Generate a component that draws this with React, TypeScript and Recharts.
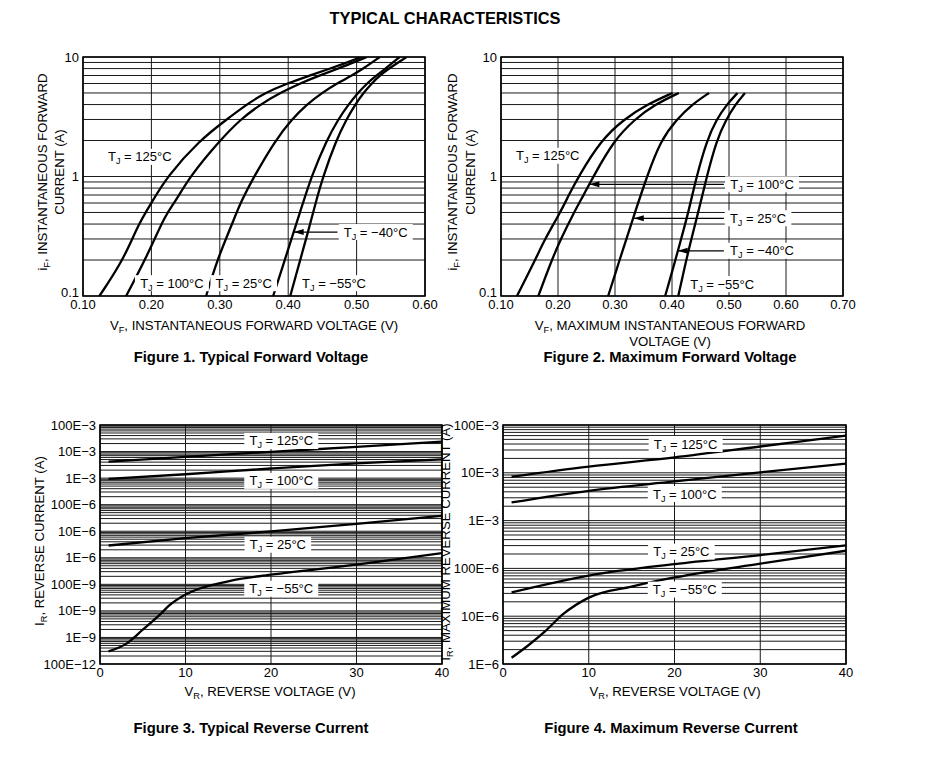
import type { ReactNode } from 'react'
import {
  CartesianGrid,
  Line,
  LineChart,
  ReferenceArea,
  ReferenceDot,
  ReferenceLine,
  XAxis,
  YAxis,
} from 'recharts'

type Pt = { v: number; i: number }
type Tag = { v: number; i: number; text: string }
type Arrow = { from: number; to: number; i: number }

const FONT = '"Liberation Sans", Arial, Helvetica, sans-serif'

// Figure 1 – typical forward voltage (V, A)
const FIG1_X_TICKS = [0.1, 0.2, 0.3, 0.4, 0.5, 0.6]
const FWD_Y_TICKS = [0.1, 1, 10]
const FIG1_125: Pt[] = [
  { v: 0.124, i: 0.1 }, { v: 0.159, i: 0.2 }, { v: 0.181, i: 0.4 }, { v: 0.2, i: 0.6 },
  { v: 0.223, i: 1 }, { v: 0.27, i: 2 }, { v: 0.31, i: 3 }, { v: 0.339, i: 4 },
  { v: 0.366, i: 5 }, { v: 0.398, i: 6 }, { v: 0.432, i: 7 }, { v: 0.461, i: 8 },
  { v: 0.486, i: 9 }, { v: 0.507, i: 10 },
]
const FIG1_100: Pt[] = [
  { v: 0.163, i: 0.1 }, { v: 0.191, i: 0.2 }, { v: 0.222, i: 0.5 }, { v: 0.234, i: 0.6 },
  { v: 0.256, i: 1 }, { v: 0.3, i: 2 }, { v: 0.33, i: 3 }, { v: 0.359, i: 4 },
  { v: 0.388, i: 5 }, { v: 0.417, i: 6 }, { v: 0.446, i: 7 }, { v: 0.473, i: 8 },
  { v: 0.495, i: 9 }, { v: 0.515, i: 10 },
]
const FIG1_25: Pt[] = [
  { v: 0.28, i: 0.1 }, { v: 0.296, i: 0.2 }, { v: 0.318, i: 0.4 }, { v: 0.33, i: 0.6 },
  { v: 0.35, i: 1 }, { v: 0.381, i: 2 }, { v: 0.405, i: 3 }, { v: 0.427, i: 4 },
  { v: 0.449, i: 5 }, { v: 0.471, i: 6 }, { v: 0.493, i: 7 }, { v: 0.51, i: 8 },
  { v: 0.534, i: 10 },
]
const FIG1_M40: Pt[] = [
  { v: 0.378, i: 0.1 }, { v: 0.395, i: 0.2 }, { v: 0.408, i: 0.343 }, { v: 0.4216, i: 0.6 },
  { v: 0.434, i: 1 }, { v: 0.456, i: 2 }, { v: 0.473, i: 3 }, { v: 0.488, i: 4 },
  { v: 0.502, i: 5 }, { v: 0.515, i: 6 }, { v: 0.529, i: 7 }, { v: 0.542, i: 8 },
  { v: 0.563, i: 10 },
]
const FIG1_M55: Pt[] = [
  { v: 0.403, i: 0.1 }, { v: 0.4175, i: 0.2 }, { v: 0.429, i: 0.343 }, { v: 0.44, i: 0.6 },
  { v: 0.451, i: 1 }, { v: 0.47, i: 2 }, { v: 0.485, i: 3 }, { v: 0.498, i: 4 },
  { v: 0.51, i: 5 }, { v: 0.522, i: 6 }, { v: 0.534, i: 7 }, { v: 0.547, i: 8 },
  { v: 0.573, i: 10 },
]

// Figure 2 – maximum forward voltage
const FIG2_X_TICKS = [0.1, 0.2, 0.3, 0.4, 0.5, 0.6, 0.7]
const FIG2_125: Pt[] = [
  { v: 0.128, i: 0.1 }, { v: 0.16, i: 0.2 }, { v: 0.177, i: 0.3 }, { v: 0.204, i: 0.5 },
  { v: 0.219, i: 0.7 }, { v: 0.236, i: 1 }, { v: 0.275, i: 2 }, { v: 0.315, i: 3 },
  { v: 0.356, i: 4 }, { v: 0.401, i: 5 },
]
const FIG2_100: Pt[] = [
  { v: 0.1655, i: 0.1 }, { v: 0.189, i: 0.2 }, { v: 0.205, i: 0.3 }, { v: 0.228, i: 0.5 },
  { v: 0.245, i: 0.7 }, { v: 0.262, i: 1 }, { v: 0.298, i: 2 }, { v: 0.334, i: 3 },
  { v: 0.37, i: 4 }, { v: 0.412, i: 5 },
]
const FIG2_25: Pt[] = [
  { v: 0.288, i: 0.1 }, { v: 0.308, i: 0.2 }, { v: 0.32, i: 0.3 }, { v: 0.335, i: 0.5 },
  { v: 0.356, i: 1 }, { v: 0.38, i: 2 }, { v: 0.408, i: 3 }, { v: 0.435, i: 4 },
  { v: 0.465, i: 5 },
]
const FIG2_M40: Pt[] = [
  { v: 0.388, i: 0.1 }, { v: 0.406, i: 0.2 }, { v: 0.416, i: 0.3 }, { v: 0.4287, i: 0.5 },
  { v: 0.443, i: 1 }, { v: 0.461, i: 2 }, { v: 0.478, i: 3 }, { v: 0.496, i: 4 },
  { v: 0.515, i: 5 },
]
const FIG2_M55: Pt[] = [
  { v: 0.411, i: 0.1 }, { v: 0.425, i: 0.2 }, { v: 0.434, i: 0.3 }, { v: 0.446, i: 0.5 },
  { v: 0.461, i: 1 }, { v: 0.478, i: 2 }, { v: 0.495, i: 3 }, { v: 0.511, i: 4 },
  { v: 0.528, i: 5 },
]

// Figures 3 & 4 – reverse current (V, A)
const REV_X_TICKS = [0, 10, 20, 30, 40]
const FIG3_Y_TICKS = [1e-10, 1e-9, 1e-8, 1e-7, 1e-6, 1e-5, 1e-4, 1e-3, 1e-2, 1e-1]
const FIG3_Y_LABELS = ['100E−12', '1E−9', '10E−9', '100E−9', '1E−6', '10E−6', '100E−6', '1E−3', '10E−3', '100E−3']
const FIG4_Y_TICKS = [1e-6, 1e-5, 1e-4, 1e-3, 1e-2, 1e-1]
const FIG4_Y_LABELS = ['1E−6', '10E−6', '100E−6', '1E−3', '10E−3', '100E−3']

const FIG3_125: Pt[] = [
  { v: 1, i: 4.2e-3 }, { v: 10, i: 6.3e-3 }, { v: 20, i: 9.8e-3 }, { v: 30, i: 15e-3 }, { v: 40, i: 23.5e-3 },
]
const FIG3_100: Pt[] = [
  { v: 1, i: 0.93e-3 }, { v: 10, i: 1.4e-3 }, { v: 20, i: 2.3e-3 }, { v: 30, i: 3.6e-3 }, { v: 40, i: 5.1e-3 },
]
const FIG3_25: Pt[] = [
  { v: 1, i: 2.9e-6 }, { v: 10, i: 5.5e-6 }, { v: 20, i: 9.8e-6 }, { v: 30, i: 19e-6 }, { v: 40, i: 38e-6 },
]
const FIG3_M55: Pt[] = [
  { v: 1, i: 3e-10 }, { v: 3, i: 5.6e-10 }, { v: 5, i: 1.95e-9 }, { v: 7, i: 7.2e-9 },
  { v: 8, i: 1.5e-8 }, { v: 10, i: 4.1e-8 }, { v: 15, i: 1.3e-7 }, { v: 20, i: 2.3e-7 },
  { v: 30, i: 5.5e-7 }, { v: 40, i: 1.5e-6 },
]

const FIG4_125: Pt[] = [
  { v: 1, i: 8.3e-3 }, { v: 10, i: 13.5e-3 }, { v: 20, i: 21e-3 }, { v: 30, i: 35.5e-3 }, { v: 40, i: 60e-3 },
]
const FIG4_100: Pt[] = [
  { v: 1, i: 2.4e-3 }, { v: 10, i: 4.2e-3 }, { v: 20, i: 6.6e-3 }, { v: 30, i: 10.2e-3 }, { v: 40, i: 15.5e-3 },
]
const FIG4_25: Pt[] = [
  { v: 1, i: 31.6e-6 }, { v: 10, i: 71e-6 }, { v: 20, i: 123e-6 }, { v: 30, i: 190e-6 }, { v: 40, i: 302e-6 },
]
const FIG4_M55: Pt[] = [
  { v: 1, i: 1.35e-6 }, { v: 3, i: 2.5e-6 }, { v: 5, i: 5e-6 }, { v: 7, i: 11e-6 },
  { v: 10, i: 24.5e-6 }, { v: 15, i: 41.7e-6 }, { v: 20, i: 64.6e-6 }, { v: 30, i: 126e-6 },
  { v: 40, i: 234e-6 },
]

// log grid: 1..9 per decade
const logGrid = (lo: number, hi: number) => {
  const out: number[] = []
  for (let e = lo; e < hi; e++) for (let k = 1; k <= 9; k++) out.push(k * Math.pow(10, e))
  out.push(Math.pow(10, hi))
  return out
}

function TempTag({ cx, cy, text }: { cx: number; cy: number; text: string }) {
  const w = text.length * 7.4 + 37
  return (
    <g>
      <rect x={cx - w / 2} y={cy - 8} width={w} height={16} fill="#fff" />
      <text x={cx} y={cy + 4.5} textAnchor="middle" fontSize={13} fill="#000" fontFamily={FONT}>
        T<tspan fontSize={9} dy={3}>J</tspan>
        <tspan dy={-3}>{` = ${text}`}</tspan>
      </text>
    </g>
  )
}

function ArrowHead({ cx, cy }: { cx: number; cy: number }) {
  return <polygon points={`${cx},${cy} ${cx + 10},${cy - 3} ${cx + 10},${cy + 3}`} fill="#000" />
}

interface PanelProps {
  left: number
  top: number
  width: number
  height: number
  yAxisWidth: number
  xDomain: [number, number]
  xTicks: number[]
  xGrid: number[]
  xFormat: (v: number) => string
  yDomain: [number, number]
  yTicks: number[]
  yGrid: number[]
  yFormat: (v: number) => string
  bottomLift?: number
  curve: 'basis' | 'monotone'
  series: Pt[][]
  tags: Tag[]
  arrows?: Arrow[]
}

function Panel(p: PanelProps) {
  const mt = 10
  const mr = 25
  const xh = 30
  const tick = { fill: '#000', fontSize: 13, fontFamily: FONT }
  const yTick = (t: any) => {
    const lift = t.payload.value === p.yDomain[0] ? p.bottomLift ?? 0 : 0
    return (
      <text x={t.x} y={t.y + 4.5 - lift} textAnchor="end" fill="#000" fontSize={13} fontFamily={FONT}>
        {p.yFormat(t.payload.value)}
      </text>
    )
  }
  return (
    <div style={{ position: 'absolute', left: p.left - p.yAxisWidth, top: p.top - mt }}>
      <LineChart
        width={p.width + p.yAxisWidth + mr}
        height={p.height + mt + xh}
        margin={{ top: mt, right: mr, left: 0, bottom: 0 }}
      >
        <CartesianGrid horizontalValues={p.yGrid} verticalValues={p.xGrid} stroke="#1a1a1a" strokeWidth={1} />
        <XAxis
          type="number"
          dataKey="v"
          domain={p.xDomain}
          ticks={p.xTicks}
          interval={0}
          allowDataOverflow
          tickFormatter={p.xFormat}
          tickLine={false}
          axisLine={false}
          tickSize={0}
          tickMargin={4}
          height={xh}
          tick={tick}
        />
        <YAxis
          type="number"
          scale="log"
          domain={p.yDomain}
          ticks={p.yTicks}
          interval={0}
          allowDataOverflow
          tickLine={false}
          axisLine={false}
          tickSize={0}
          tickMargin={4}
          width={p.yAxisWidth}
          tick={yTick}
        />
        {p.series.map((s, idx) => (
          <Line
            key={idx}
            data={s}
            dataKey="i"
            type={p.curve}
            stroke="#000"
            strokeWidth={2.3}
            dot={false}
            isAnimationActive={false}
          />
        ))}
        <ReferenceArea
          x1={p.xDomain[0]}
          x2={p.xDomain[1]}
          y1={p.yDomain[0]}
          y2={p.yDomain[1]}
          fill="none"
          fillOpacity={0}
          stroke="#000"
          strokeWidth={1.6}
          ifOverflow="visible"
        />
        {(p.arrows ?? []).map((a, idx) => (
          <ReferenceLine
            key={`al${idx}`}
            segment={[{ x: a.from, y: a.i }, { x: a.to, y: a.i }]}
            stroke="#000"
            strokeWidth={1.2}
            ifOverflow="visible"
          />
        ))}
        {(p.arrows ?? []).map((a, idx) => (
          <ReferenceDot
            key={`ah${idx}`}
            x={a.to}
            y={a.i}
            r={0}
            ifOverflow="visible"
            shape={(d: any) => <ArrowHead cx={d.cx} cy={d.cy} />}
          />
        ))}
        {p.tags.map((t, idx) => (
          <ReferenceDot
            key={`t${idx}`}
            x={t.v}
            y={t.i}
            r={0}
            ifOverflow="visible"
            shape={(d: any) => <TempTag cx={d.cx} cy={d.cy} text={t.text} />}
          />
        ))}
      </LineChart>
    </div>
  )
}

function Txt({ x, y, size = 13.2, bold = false, rotate = false, children }: {
  x: number
  y: number
  size?: number
  bold?: boolean
  rotate?: boolean
  children: ReactNode
}) {
  return (
    <div
      style={{
        position: 'absolute',
        left: x,
        top: y,
        transform: `translate(-50%, -50%)${rotate ? ' rotate(-90deg)' : ''}`,
        fontSize: size,
        fontWeight: bold ? 700 : 400,
        whiteSpace: 'nowrap',
        lineHeight: 1,
      }}
    >
      {children}
    </div>
  )
}

const Sub = ({ children }: { children: ReactNode }) => (
  <span style={{ fontSize: '0.7em', position: 'relative', top: '0.3em' }}>{children}</span>
)

const fmt2 = (v: number) => v.toFixed(2)
const fmtFwdY = (v: number) => (v < 1 ? '0.1' : String(Math.round(v)))
const fmtInt = (v: number) => String(Math.round(v))
const fmtFrom = (ticks: number[], labels: string[]) => (v: number) => {
  const k = ticks.findIndex((t) => Math.abs(Math.log10(t) - Math.log10(v)) < 1e-6)
  return k >= 0 ? labels[k] : ''
}

export default function App() {
  return (
    <div
      style={{
        position: 'absolute',
        left: 0,
        top: 0,
        width: 946,
        height: 768,
        background: '#fff',
        color: '#000',
        fontFamily: FONT,
        overflow: 'hidden',
      }}
    >
      <Txt x={445} y={18} size={16.4} bold>TYPICAL CHARACTERISTICS</Txt>

      <Panel
        left={83}
        top={57}
        width={342}
        height={239}
        yAxisWidth={60}
        xDomain={[0.1, 0.6]}
        xTicks={FIG1_X_TICKS}
        xGrid={FIG1_X_TICKS}
        xFormat={fmt2}
        yDomain={[0.1, 10]}
        yTicks={FWD_Y_TICKS}
        yGrid={logGrid(-1, 1)}
        yFormat={fmtFwdY}
        bottomLift={4}
        curve="basis"
        series={[FIG1_125, FIG1_100, FIG1_25, FIG1_M40, FIG1_M55]}
        tags={[
          { v: 0.183, i: 1.46, text: '125°C' },
          { v: 0.23, i: 0.128, text: '100°C' },
          { v: 0.335, i: 0.128, text: '25°C' },
          { v: 0.467, i: 0.128, text: '−55°C' },
          { v: 0.528, i: 0.343, text: '−40°C' },
        ]}
        arrows={[{ from: 0.472, to: 0.408, i: 0.343 }]}
      />
      <Panel
        left={501}
        top={57}
        width={342}
        height={239}
        yAxisWidth={60}
        xDomain={[0.1, 0.7]}
        xTicks={FIG2_X_TICKS}
        xGrid={FIG2_X_TICKS}
        xFormat={fmt2}
        yDomain={[0.1, 10]}
        yTicks={FWD_Y_TICKS}
        yGrid={logGrid(-1, 1)}
        yFormat={fmtFwdY}
        bottomLift={4}
        curve="basis"
        series={[FIG2_125, FIG2_100, FIG2_25, FIG2_M40, FIG2_M55]}
        tags={[
          { v: 0.182, i: 1.49, text: '125°C' },
          { v: 0.558, i: 0.86, text: '100°C' },
          { v: 0.551, i: 0.447, text: '25°C' },
          { v: 0.558, i: 0.239, text: '−40°C' },
          { v: 0.488, i: 0.126, text: '−55°C' },
        ]}
        arrows={[
          { from: 0.491, to: 0.255, i: 0.86 },
          { from: 0.491, to: 0.333, i: 0.447 },
          { from: 0.491, to: 0.41, i: 0.239 },
        ]}
      />
      <Panel
        left={100}
        top={425}
        width={342}
        height={239}
        yAxisWidth={70}
        xDomain={[0, 40]}
        xTicks={REV_X_TICKS}
        xGrid={REV_X_TICKS}
        xFormat={fmtInt}
        yDomain={[1e-10, 1e-1]}
        yTicks={FIG3_Y_TICKS}
        yGrid={logGrid(-10, -1)}
        yFormat={fmtFrom(FIG3_Y_TICKS, FIG3_Y_LABELS)}
        curve="monotone"
        series={[FIG3_125, FIG3_100, FIG3_25, FIG3_M55]}
        tags={[
          { v: 21.2, i: 0.025, text: '125°C' },
          { v: 21.2, i: 7.85e-4, text: '100°C' },
          { v: 20.8, i: 3.1e-6, text: '25°C' },
          { v: 21.2, i: 6.8e-8, text: '−55°C' },
        ]}
      />
      <Panel
        left={503}
        top={425}
        width={343}
        height={239}
        yAxisWidth={70}
        xDomain={[0, 40]}
        xTicks={REV_X_TICKS}
        xGrid={REV_X_TICKS}
        xFormat={fmtInt}
        yDomain={[1e-6, 1e-1]}
        yTicks={FIG4_Y_TICKS}
        yGrid={logGrid(-6, -1)}
        yFormat={fmtFrom(FIG4_Y_TICKS, FIG4_Y_LABELS)}
        curve="monotone"
        series={[FIG4_125, FIG4_100, FIG4_25, FIG4_M55]}
        tags={[
          { v: 21.3, i: 0.04, text: '125°C' },
          { v: 21.2, i: 3.6e-3, text: '100°C' },
          { v: 20.8, i: 2.24e-4, text: '25°C' },
          { v: 21.2, i: 3.6e-5, text: '−55°C' },
        ]}
      />

      {/* axis titles */}
      <Txt x={43} y={172} rotate>
        i<Sub>F</Sub>, INSTANTANEOUS FORWARD
      </Txt>
      <Txt x={60} y={172} rotate>CURRENT (A)</Txt>
      <Txt x={254} y={326}>
        V<Sub>F</Sub>, INSTANTANEOUS FORWARD VOLTAGE (V)
      </Txt>

      <Txt x={453} y={172} rotate>
        i<Sub>F</Sub>, INSTANTANEOUS FORWARD
      </Txt>
      <Txt x={471} y={172} rotate>CURRENT (A)</Txt>
      <Txt x={670} y={326}>
        V<Sub>F</Sub>, MAXIMUM INSTANTANEOUS FORWARD
      </Txt>
      <Txt x={670} y={342}>VOLTAGE (V)</Txt>

      <Txt x={40} y={541} rotate>
        I<Sub>R</Sub>, REVERSE CURRENT (A)
      </Txt>
      <Txt x={270} y={692}>
        V<Sub>R</Sub>, REVERSE VOLTAGE (V)
      </Txt>

      <Txt x={446} y={542} rotate>
        I<Sub>R</Sub>, MAXIMUM REVERSE CURRENT (A)
      </Txt>
      <Txt x={675} y={692}>
        V<Sub>R</Sub>, REVERSE VOLTAGE (V)
      </Txt>

      {/* captions */}
      <Txt x={251} y={357} size={14.8} bold>Figure 1. Typical Forward Voltage</Txt>
      <Txt x={670} y={357} size={14.8} bold>Figure 2. Maximum Forward Voltage</Txt>
      <Txt x={251} y={728} size={14.8} bold>Figure 3. Typical Reverse Current</Txt>
      <Txt x={671} y={728} size={14.8} bold>Figure 4. Maximum Reverse Current</Txt>
    </div>
  )
}
